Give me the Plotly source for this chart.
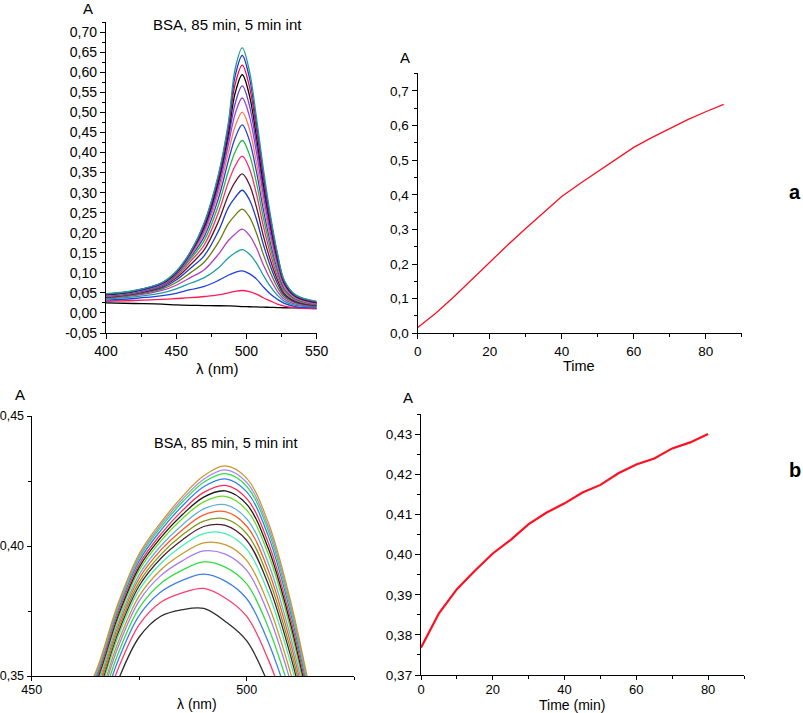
import plotly.graph_objects as go

FONT = "Arial, 'Liberation Sans', sans-serif"
W, H = 803, 713

# ---------------- Panel a (top-left): spectra, 0..85 min every 5 min ----------------
a_times = [0, 5, 10, 15, 20, 25, 30, 35, 40, 45, 50, 55, 60, 65, 70, 75, 80, 85]
a_wavelengths = [400, 420, 440, 450, 460, 470, 480, 487, 492, 497, 502, 507, 512, 517, 522, 527, 535, 550]
# absorbance at each wavelength, one value per time (0..85 min)
abs_400 = [0.025, 0.029, 0.032, 0.035, 0.037, 0.038, 0.039, 0.040, 0.041, 0.042, 0.043, 0.044, 0.045, 0.045, 0.046, 0.047, 0.047, 0.048]
abs_420 = [0.0235, 0.031, 0.036, 0.040, 0.043, 0.045, 0.047, 0.048, 0.049, 0.050, 0.051, 0.052, 0.053, 0.053, 0.054, 0.055, 0.055, 0.056]
abs_440 = [0.022, 0.034, 0.043, 0.050, 0.056, 0.060, 0.063, 0.066, 0.068, 0.069, 0.070, 0.071, 0.072, 0.073, 0.074, 0.075, 0.075, 0.076]
abs_450 = [0.020, 0.036, 0.049, 0.060, 0.069, 0.076, 0.082, 0.087, 0.091, 0.094, 0.096, 0.098, 0.099, 0.100, 0.101, 0.102, 0.103, 0.104]
abs_460 = [0.019, 0.038, 0.058, 0.074, 0.088, 0.100, 0.111, 0.120, 0.128, 0.134, 0.139, 0.142, 0.145, 0.147, 0.149, 0.150, 0.151, 0.152]
abs_470 = [0.0185, 0.041, 0.066, 0.088, 0.108, 0.127, 0.143, 0.158, 0.170, 0.181, 0.191, 0.199, 0.206, 0.211, 0.216, 0.220, 0.223, 0.226]
abs_480 = [0.018, 0.045, 0.081, 0.112, 0.146, 0.176, 0.204, 0.228, 0.250, 0.268, 0.285, 0.299, 0.311, 0.320, 0.329, 0.336, 0.341, 0.345]
abs_487 = [0.0175, 0.050, 0.094, 0.137, 0.180, 0.222, 0.262, 0.293, 0.325, 0.352, 0.378, 0.398, 0.417, 0.432, 0.445, 0.456, 0.465, 0.472]
abs_492 = [0.017, 0.054, 0.101, 0.150, 0.197, 0.244, 0.288, 0.327, 0.367, 0.402, 0.437, 0.466, 0.497, 0.523, 0.549, 0.571, 0.592, 0.610]
abs_497 = [0.016, 0.056, 0.105, 0.158, 0.209, 0.259, 0.306, 0.347, 0.391, 0.430, 0.469, 0.501, 0.536, 0.566, 0.594, 0.618, 0.642, 0.661]
abs_502 = [0.0155, 0.053, 0.098, 0.147, 0.194, 0.240, 0.283, 0.321, 0.361, 0.396, 0.431, 0.460, 0.492, 0.519, 0.544, 0.566, 0.588, 0.605]
abs_507 = [0.015, 0.047, 0.085, 0.125, 0.163, 0.200, 0.235, 0.265, 0.298, 0.326, 0.354, 0.377, 0.402, 0.423, 0.443, 0.460, 0.476, 0.490]
abs_512 = [0.0145, 0.038, 0.065, 0.094, 0.120, 0.146, 0.171, 0.193, 0.217, 0.238, 0.258, 0.275, 0.294, 0.309, 0.323, 0.336, 0.348, 0.360]
abs_517 = [0.014, 0.030, 0.047, 0.066, 0.084, 0.101, 0.117, 0.132, 0.148, 0.162, 0.176, 0.188, 0.200, 0.211, 0.221, 0.229, 0.237, 0.245]
abs_522 = [0.0135, 0.022, 0.034, 0.044, 0.054, 0.064, 0.074, 0.083, 0.092, 0.101, 0.109, 0.116, 0.124, 0.130, 0.136, 0.141, 0.146, 0.150]
abs_527 = [0.013, 0.017, 0.024, 0.029, 0.034, 0.039, 0.044, 0.048, 0.053, 0.057, 0.061, 0.065, 0.069, 0.072, 0.075, 0.077, 0.079, 0.081]
abs_535 = [0.0125, 0.013, 0.016, 0.019, 0.022, 0.025, 0.027, 0.029, 0.031, 0.033, 0.035, 0.037, 0.039, 0.040, 0.042, 0.043, 0.044, 0.045]
abs_550 = [0.011, 0.011, 0.013, 0.015, 0.016, 0.017, 0.018, 0.019, 0.020, 0.021, 0.022, 0.023, 0.024, 0.025, 0.026, 0.027, 0.028, 0.029]
a_columns = [abs_400, abs_420, abs_440, abs_450, abs_460, abs_470, abs_480, abs_487, abs_492,
             abs_497, abs_502, abs_507, abs_512, abs_517, abs_522, abs_527, abs_535, abs_550]
a_colors = ["#000000", "#ff1a55", "#1f3fe0", "#1a9e9e", "#b040c8", "#6b7a10", "#1a3acc", "#5a1a2a",
            "#ff2a6a", "#22bb44", "#2040e0", "#ff7a50", "#9a40e0", "#6040d8", "#000000", "#ff0030",
            "#2030f0", "#20a080"]
a_ytick_vals = [-0.05, 0.0, 0.05, 0.10, 0.15, 0.20, 0.25, 0.30, 0.35, 0.40, 0.45, 0.50, 0.55, 0.60, 0.65, 0.70]
a_ytick_text = ["-0,05", "0,00", "0,05", "0,10", "0,15", "0,20", "0,25", "0,30", "0,35", "0,40",
                "0,45", "0,50", "0,55", "0,60", "0,65", "0,70"]
a_xtick_vals = [400, 450, 500, 550]

# ---------------- Panel a (top-right): peak absorbance vs time ----------------
a2_time = [0, 5, 10, 15, 20, 25, 30, 35, 40, 45, 50, 55, 60, 65, 70, 75, 80, 85]
a2_abs = [0.017, 0.058, 0.105, 0.155, 0.207, 0.255, 0.303, 0.350, 0.395, 0.432, 0.467, 0.503,
          0.537, 0.565, 0.592, 0.617, 0.640, 0.661]
a2_ytick_vals = [0.0, 0.1, 0.2, 0.3, 0.4, 0.5, 0.6, 0.7]
a2_ytick_text = ["0,0", "0,1", "0,2", "0,3", "0,4", "0,5", "0,6", "0,7"]
a2_xtick_vals = [0, 20, 40, 60, 80]

# ---------------- Panel b (bottom-left): zoomed spectra ----------------
b_wavelengths = [460, 465, 470, 475, 480, 485, 490, 495, 500, 505, 510, 515, 520]
b_00 = [0.3100, 0.3250, 0.3480, 0.3650, 0.3730, 0.3755, 0.3760, 0.3710, 0.3635, 0.3470, 0.3250, 0.3000, 0.2800]
b_05 = [0.3138, 0.3291, 0.3524, 0.3698, 0.3784, 0.3820, 0.3837, 0.3800, 0.3729, 0.3563, 0.3333, 0.3063, 0.2830]
b_10 = [0.3165, 0.3320, 0.3556, 0.3733, 0.3823, 0.3868, 0.3892, 0.3865, 0.3797, 0.3631, 0.3393, 0.3109, 0.2852]
b_15 = [0.3188, 0.3345, 0.3583, 0.3762, 0.3856, 0.3907, 0.3939, 0.3919, 0.3854, 0.3687, 0.3443, 0.3147, 0.2870]
b_20 = [0.3208, 0.3367, 0.3608, 0.3789, 0.3886, 0.3943, 0.3981, 0.3969, 0.3906, 0.3739, 0.3488, 0.3182, 0.2887]
b_25 = [0.3224, 0.3383, 0.3626, 0.3808, 0.3908, 0.3970, 0.4012, 0.4005, 0.3944, 0.3776, 0.3522, 0.3208, 0.2899]
b_30 = [0.3241, 0.3403, 0.3647, 0.3831, 0.3933, 0.4001, 0.4048, 0.4048, 0.3988, 0.3820, 0.3561, 0.3237, 0.2913]
b_35 = [0.3254, 0.3417, 0.3662, 0.3847, 0.3952, 0.4023, 0.4075, 0.4079, 0.4021, 0.3853, 0.3589, 0.3259, 0.2923]
b_40 = [0.3265, 0.3428, 0.3674, 0.3861, 0.3967, 0.4042, 0.4096, 0.4104, 0.4047, 0.3879, 0.3613, 0.3277, 0.2932]
b_45 = [0.3276, 0.3440, 0.3688, 0.3876, 0.3984, 0.4062, 0.4120, 0.4132, 0.4076, 0.3907, 0.3638, 0.3296, 0.2941]
b_50 = [0.3288, 0.3453, 0.3701, 0.3890, 0.4000, 0.4081, 0.4143, 0.4159, 0.4104, 0.3935, 0.3663, 0.3315, 0.2950]
b_55 = [0.3301, 0.3467, 0.3717, 0.3907, 0.4019, 0.4105, 0.4170, 0.4191, 0.4138, 0.3969, 0.3692, 0.3338, 0.2961]
b_60 = [0.3310, 0.3477, 0.3728, 0.3919, 0.4032, 0.4120, 0.4188, 0.4212, 0.4160, 0.3991, 0.3712, 0.3353, 0.2968]
b_65 = [0.3319, 0.3486, 0.3738, 0.3930, 0.4045, 0.4136, 0.4206, 0.4233, 0.4182, 0.4013, 0.3731, 0.3368, 0.2975]
b_70 = [0.3329, 0.3498, 0.3751, 0.3943, 0.4060, 0.4154, 0.4228, 0.4258, 0.4208, 0.4039, 0.3754, 0.3385, 0.2983]
b_75 = [0.3338, 0.3507, 0.3760, 0.3954, 0.4072, 0.4168, 0.4245, 0.4278, 0.4229, 0.4059, 0.3773, 0.3399, 0.2990]
b_80 = [0.3344, 0.3513, 0.3767, 0.3962, 0.4081, 0.4179, 0.4257, 0.4293, 0.4244, 0.4074, 0.3786, 0.3409, 0.2995]
b_85 = [0.3350, 0.3520, 0.3775, 0.3970, 0.4090, 0.4190, 0.4270, 0.4308, 0.4260, 0.4090, 0.3800, 0.3420, 0.3000]
b_rows = [b_00, b_05, b_10, b_15, b_20, b_25, b_30, b_35, b_40, b_45, b_50, b_55, b_60, b_65, b_70, b_75, b_80, b_85]
b_colors = ["#2b2b2b", "#ff3d6e", "#3f7fe8", "#33dd44", "#a77bf0", "#c9992a", "#44f0b0", "#4a1f35",
            "#7f9a1c", "#ff5a22", "#5fb0e0", "#66dd22", "#1a1a1a", "#ff2a55", "#2e7ef0", "#33dd44",
            "#a98af0", "#c9992a"]
b_ytick_vals = [0.35, 0.40, 0.45]
b_ytick_text = ["0,35", "0,40", "0,45"]
b_xtick_vals = [450, 500]

# ---------------- Panel b (bottom-right): absorbance vs time ----------------
b2_time = [0, 5, 10, 15, 20, 25, 30, 35, 40, 45, 50, 55, 60, 65, 70, 75, 80]
b2_abs = [0.3768, 0.3854, 0.3914, 0.3960, 0.4003, 0.4037, 0.4076, 0.4105, 0.4128, 0.4155, 0.4174,
          0.4203, 0.4225, 0.4240, 0.4265, 0.4280, 0.4301]
b2_ytick_vals = [0.37, 0.38, 0.39, 0.40, 0.41, 0.42, 0.43]
b2_ytick_text = ["0,37", "0,38", "0,39", "0,40", "0,41", "0,42", "0,43"]
b2_xtick_vals = [0, 20, 40, 60, 80]

fig = go.Figure()

for i in range(len(a_times)):
    fig.add_trace(go.Scatter(
        x=a_wavelengths, y=[col[i] for col in a_columns], mode="lines",
        line=dict(color=a_colors[i], width=1.3, shape="spline", smoothing=1.0),
        xaxis="x", yaxis="y", hoverinfo="skip"))

fig.add_trace(go.Scatter(x=a2_time, y=a2_abs, mode="lines",
                         line=dict(color="#ff1020", width=1.3), xaxis="x2", yaxis="y2"))

for i, row in enumerate(b_rows):
    fig.add_trace(go.Scatter(
        x=b_wavelengths, y=row, mode="lines",
        line=dict(color=b_colors[i], width=1.3, shape="spline", smoothing=1.0),
        xaxis="x3", yaxis="y3", hoverinfo="skip"))

fig.add_trace(go.Scatter(x=b2_time, y=b2_abs, mode="lines",
                         line=dict(color="#ff1020", width=2.2), xaxis="x4", yaxis="y4"))


def px(x):
    return x / W


def py(y):
    return 1 - y / H


def axis(domain, rng, tickvals, ticktext=None, minor_dtick=None, minor_tick0=None, anchor=None, size=13):
    d = dict(domain=domain, range=rng, anchor=anchor, automargin=False,
             showline=True, linecolor="black", linewidth=1.3,
             ticks="outside", ticklen=5, tickwidth=1.2, tickcolor="black", showgrid=False, zeroline=False,
             tickmode="array", tickvals=tickvals,
             tickfont=dict(family=FONT, size=size, color="black"))
    if ticktext is not None:
        d["ticktext"] = ticktext
    if minor_dtick is not None:
        d["minor"] = dict(ticks="outside", ticklen=3, tickwidth=1.1, tickcolor="black",
                          dtick=minor_dtick, tick0=minor_tick0, showgrid=False)
    return d


fig.update_layout(
    width=W, height=H, margin=dict(l=0, r=0, t=0, b=0, pad=0, autoexpand=False),
    paper_bgcolor="white", plot_bgcolor="white", showlegend=False,
    font=dict(family=FONT, color="black"),
    xaxis=axis([px(106), px(316.7)], [400, 550], a_xtick_vals, None, 25, 400, "y", 14),
    yaxis=axis([py(333), py(22.2)], [-0.05, 0.725], a_ytick_vals, a_ytick_text, 0.025, 0, "x", 14),
    xaxis2=axis([px(417.7), px(741.7)], [0, 90], a2_xtick_vals, None, 10, 0, "y2", 13.5),
    yaxis2=axis([py(333.3), py(73.3)], [0, 0.751], a2_ytick_vals, a2_ytick_text, 0.05, 0, "x2", 13.5),
    xaxis3=axis([px(31.7), px(354.3)], [450, 525], b_xtick_vals, None, 25, 450, "y3", 12.5),
    yaxis3=axis([py(676), py(416)], [0.35, 0.45], b_ytick_vals, b_ytick_text, 0.025, 0.35, "x3", 12.5),
    xaxis4=axis([px(421), px(744)], [0, 90], b2_xtick_vals, None, 10, 0, "y4", 13),
    yaxis4=axis([py(675), py(414.3)], [0.37, 0.435], b2_ytick_vals, b2_ytick_text, 0.005, 0.37, "x4", 13.5),
)
fig.update_layout(yaxis3=dict(ticklen=4), xaxis4=dict(ticklen=4), xaxis3=dict(ticklen=4))
fig.update_layout(xaxis3=dict(ticklabelstandoff=-2), xaxis4=dict(ticklabelstandoff=-2))


def label(text, x, y, size=14, bold=False):
    fig.add_annotation(text=("<b>%s</b>" % text) if bold else text, x=px(x), y=py(y),
                       xref="paper", yref="paper", showarrow=False,
                       font=dict(family=FONT, size=size, color="black"),
                       xanchor="center", yanchor="middle")


label("A", 88, 8, 15)
label("BSA, 85 min, 5 min int", 227, 24, 15)
label("λ (nm)", 218, 368, 15)
label("A", 405, 57, 15)
label("Time", 579, 366, 14.5)
label("A", 20, 395, 15)
label("BSA, 85 min, 5 min int", 225, 443, 14.5)
label("λ (nm)", 197, 704, 14)
label("A", 408, 397, 15)
label("Time (min)", 572, 705, 14)
label("a", 795, 192, 20, True)
label("b", 795, 470, 20, True)

fig.write_html(
    "out.html",
    config={"displayModeBar": False},
    post_script="document.body.style.margin='0px';document.body.style.padding='0px';"
                "document.body.style.overflow='hidden';",
)
